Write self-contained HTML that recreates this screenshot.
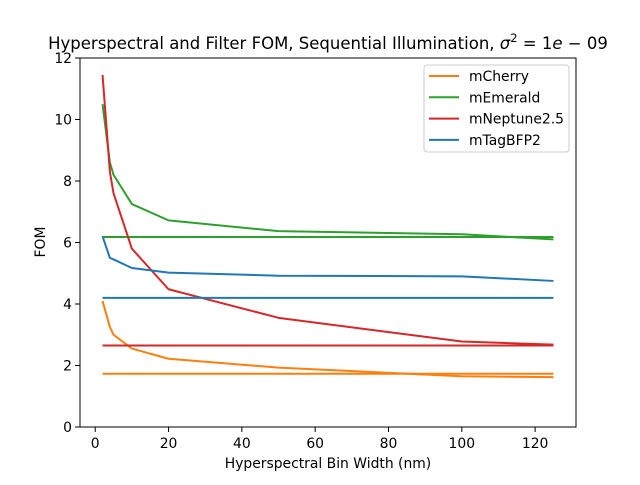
<!DOCTYPE html>
<html><head><meta charset="utf-8"><style>
body{margin:0;background:#fff}
svg text{font-family:"DejaVu Sans","Liberation Sans",sans-serif;fill:#000}
</style></head><body>
<svg id="chart" width="640" height="480" xmlns="http://www.w3.org/2000/svg">
<rect width="640" height="480" fill="#fff"/>
<text x="328" y="49" font-size="16.5" text-anchor="middle">Hyperspectral and Filter FOM, Sequential Illumination, <tspan font-style="italic">σ</tspan><tspan font-size="11.5" dy="-7">2</tspan><tspan dy="7"> = 1</tspan><tspan font-style="italic">e</tspan> − 09</text>
<g id="plot"></g>
<rect x="80" y="58" width="496" height="369" fill="none" stroke="#000" stroke-width="1"/>
<text x="328" y="468" font-size="13.9" text-anchor="middle">Hyperspectral Bin Width (nm)</text>
<text transform="translate(45,242) rotate(-90)" font-size="13.9" text-anchor="middle">FOM</text>
<g>
<rect x="424" y="65" width="145" height="87" rx="3" fill="#fff" fill-opacity="0.8" stroke="#ccc"/>
</g>
</svg>
<script>
const xs=[2,4,5,10,20,50,100,125];
const seriesNames=["mCherry","mEmerald","mNeptune2.5","mTagBFP2"];
const colors=["#ff7f0e","#2ca02c","#d62728","#1f77b4"];
const hyperCherry=[4.1,3.25,3.0,2.55,2.22,1.93,1.65,1.62];
const hyperEmerald=[10.5,8.6,8.2,7.25,6.72,6.37,6.27,6.1];
const hyperNeptune=[11.45,8.3,7.6,5.8,4.48,3.55,2.78,2.68];
const hyperTag=[6.2,5.5,5.45,5.17,5.02,4.92,4.9,4.75];
const filterVals=[1.73,6.18,2.65,4.2];
const xTicks=[0,20,40,60,80,100,120];
const yTicks=[0,2,4,6,8,10,12];
const NS="http://www.w3.org/2000/svg";
const X=v=>80+(v+4.15)*496/135.3;
const Y=v=>427-v*369/12;
const svg=document.getElementById('chart');
const plot=document.getElementById('plot');
function mk(t,a,p){const e=document.createElementNS(NS,t);for(const k in a)e.setAttribute(k,a[k]);(p||svg).appendChild(e);return e;}
xTicks.forEach(t=>{
 const l=mk('line',{x1:X(t),x2:X(t),y1:427,y2:432,stroke:'#000'});
 
 
 const tx=mk('text',{x:X(t),y:448,'font-size':13.9,'text-anchor':'middle'});tx.textContent=t;
 
 
});
yTicks.forEach(t=>{
 const l=mk('line',{x1:75,x2:80,y1:Y(t),y2:Y(t),stroke:'#000'});
 
 
 const tx=mk('text',{x:72,y:Y(t)+5,'font-size':13.9,'text-anchor':'end'});tx.textContent=t;
 
 
});
const hyper=[hyperCherry,hyperEmerald,hyperNeptune,hyperTag];
hyper.forEach((s,i)=>{
 const f=mk('line',{x1:X(xs[0]),x2:X(xs[xs.length-1]),y1:Y(filterVals[i]),y2:Y(filterVals[i]),stroke:colors[i],'stroke-width':2},plot);
 
 
 const p=mk('polyline',{points:s.map((v,j)=>X(xs[j])+','+Y(v)).join(' '),fill:'none',stroke:colors[i],'stroke-width':2,'stroke-linejoin':'round'},plot);
 
 
});
seriesNames.forEach((n,i)=>{
 const y=76+i*21.3;
 const l=mk('line',{x1:429,x2:459,y1:y,y2:y,stroke:colors[i],'stroke-width':2});
 
 
 const t=mk('text',{x:469,y:y+5,'font-size':13.9});t.textContent=n;
 
 
});
</script>
</body></html>
